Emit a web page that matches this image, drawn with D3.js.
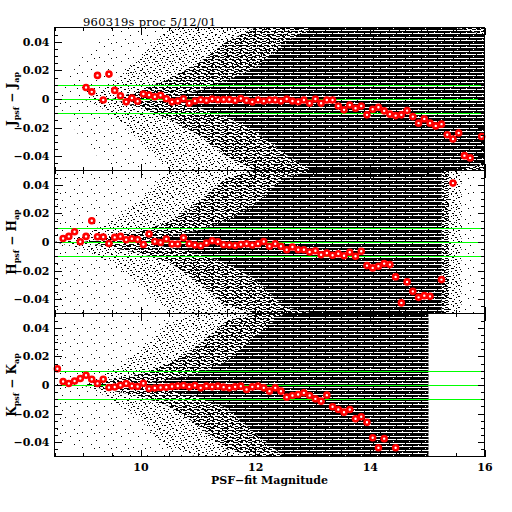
<!DOCTYPE html>
<html>
<head>
<meta charset="utf-8">
<script src="https://cdn.jsdelivr.net/npm/d3@7"></script>
<style>
body { margin: 0; background: #fff; }
svg { display: block; }
</style>
</head>
<body>
<div id="chart"></div>
<script>
// ---- DATA ----
const titleText = '960319s proc 5/12/01';
const xLabelText = 'PSF\u2212fit Magnitude';
const magDomain = [8.5, 16];
const diffDomain = [-0.05, 0.05];
const xTicks = [10, 12, 14, 16];
const yTicks = [0.04, 0.02, 0, -0.02, -0.04];
const refLines = [0.01, 0, -0.01];

// running medians in 0.1 mag bins (red circles)
const jMag = [9.05,9.15,9.25,9.35,9.45,9.55,9.65,9.75,9.85,9.95,
	10.05,10.15,10.25,10.35,10.45,10.55,10.65,10.75,10.85,10.95,
	11.05,11.15,11.25,11.35,11.45,11.55,11.65,11.75,11.85,11.95,
	12.05,12.15,12.25,12.35,12.45,12.55,12.65,12.75,12.85,12.95,
	13.05,13.15,13.25,13.35,13.45,13.55,13.65,13.75,13.85,13.95,
	14.05,14.15,14.25,14.35,14.45,14.55,14.65,14.75,14.85,14.95,
	15.05,15.15,15.25,15.35,15.45,15.55,15.65,15.75,15.95];
const jDiff = [0.008,0.005,0.0165,-0.0007,0.0174,0.006,0.0023,-0.002,0.0007,-0.0016,
	0.0035,0.0028,0.0016,0.0026,0.0002,-0.002,-0.0014,0.0002,-0.003,-0.0014,
	-0.0005,-0.001,0,-0.0005,-0.0003,-0.0003,-0.001,0.0003,-0.001,-0.002,
	-0.0007,-0.0014,-0.0007,-0.0007,-0.0014,0,-0.0014,-0.0019,-0.0007,-0.003,
	0,-0.003,-0.0007,-0.0007,-0.0049,-0.0076,-0.0042,-0.0065,-0.0049,-0.0111,
	-0.0072,-0.0058,-0.0083,-0.0106,-0.0116,-0.0111,-0.0081,-0.0123,-0.0169,-0.0139,
	-0.0169,-0.0188,-0.0176,-0.025,-0.028,-0.0238,-0.0396,-0.0412,-0.0262];

const hMag = [8.65,8.75,8.85,8.95,9.05,9.15,9.25,9.35,9.45,9.55,
	9.65,9.75,9.85,9.95,10.05,10.15,10.25,10.35,10.45,10.55,
	10.65,10.75,10.85,10.95,11.05,11.15,11.25,11.35,11.45,11.55,
	11.65,11.75,11.85,11.95,12.05,12.15,12.25,12.35,12.45,12.55,
	12.65,12.75,12.85,12.95,13.05,13.15,13.25,13.35,13.45,13.55,
	13.65,13.75,13.85,13.95,14.05,14.15,14.25,14.35,14.45,14.55,
	14.65,14.75,14.85,14.95,15.05,15.25,15.45];
const hDiff = [0.0025,0.0039,0.0072,0.0002,0.0039,0.0149,0.0037,0.0035,-0.001,0.0032,
	0.0039,0.0016,0.0023,0.0018,-0.0017,0.0056,0.0004,-0.0003,0.0021,-0.0014,
	-0.0014,0.003,-0.0012,-0.0021,-0.0026,-0.0007,0.0009,0.0002,-0.0019,-0.0021,
	-0.0024,-0.0017,-0.0012,-0.0021,-0.0012,0.0004,-0.003,-0.0012,-0.003,-0.0054,
	-0.0035,-0.0054,-0.0054,-0.007,-0.0061,-0.0089,-0.0077,-0.0093,-0.0082,-0.0096,
	-0.0072,-0.01,-0.0065,-0.0165,-0.0181,-0.017,-0.0151,-0.0158,-0.0244,-0.0426,
	-0.0279,-0.0345,-0.0387,-0.0375,-0.038,-0.0263,0.0412];

const kMag = [8.55,8.65,8.75,8.85,8.95,9.05,9.15,9.25,9.35,9.45,
	9.55,9.65,9.75,9.85,9.95,10.05,10.15,10.25,10.35,10.45,
	10.55,10.65,10.75,10.85,10.95,11.05,11.15,11.25,11.35,11.45,
	11.55,11.65,11.75,11.85,11.95,12.05,12.15,12.25,12.35,12.45,
	12.55,12.65,12.75,12.85,12.95,13.05,13.15,13.25,13.35,13.45,
	13.55,13.65,13.75,13.85,13.95,14.05,14.15,14.25,14.45];
const kDiff = [0.0114,0.0024,0.001,0.0028,0.0045,0.0068,0.004,0.001,0.004,-0.0018,
	-0.0014,-0.0002,0.001,-0.0007,-0.0011,0.0012,-0.0025,-0.0021,-0.0018,-0.0016,
	-0.0011,-0.0007,-0.0003,-0.0013,-0.0003,-0.002,-0.0008,-0.0013,-0.0008,-0.0015,
	-0.002,-0.0013,-0.0008,-0.0031,-0.0013,-0.0008,-0.002,-0.0043,-0.002,-0.0043,
	-0.0085,-0.0073,-0.0066,-0.0055,-0.0073,-0.0097,-0.0113,-0.0071,-0.0152,-0.0171,
	-0.019,-0.0171,-0.0236,-0.0222,-0.026,-0.0369,-0.0439,-0.0375,-0.0439];

// star-cloud envelopes: half-width (|diff|) reached by each density level
const envMag = [8.5,9,9.5,10,10.5,11,11.5,12,12.5,13,13.5,14,14.5,15,15.5,16];
const jSparse = [0,0.03,0.05,0.05,0.05,0.05,0.05,0.05,0.05,0.05,0.05,0.05,0.05,0.05,0.05,0.05];
const jMedium = [0,0,0.01,0.03,0.05,0.05,0.05,0.05,0.05,0.05,0.05,0.05,0.05,0.05,0.05,0.05];
const jDense  = [0,0,0,0.006,0.014,0.025,0.04,0.05,0.05,0.05,0.05,0.05,0.05,0.05,0.05,0.05];
const jFull   = [0,0,0,0,0,0.006,0.013,0.022,0.038,0.05,0.05,0.05,0.05,0.05,0.05,0.045];
const hSparse = [0.05,0.05,0.05,0.05,0.05,0.05,0.05,0.05,0.05,0.05,0.05,0.05,0.05,0.05,0.05,0.05];
const hMedium = [0,0.005,0.015,0.03,0.05,0.05,0.05,0.05,0.05,0.05,0.05,0.05,0.05,0.05,0.05,0.05];
const hDense  = [0,0,0.004,0.008,0.014,0.028,0.045,0.05,0.05,0.05,0.05,0.05,0.05,0.05,0.05,0.05];
const hFull   = [0,0,0,0,0.004,0.008,0.015,0.026,0.045,0.05,0.05,0.05,0.05,0.05,0.05,0.05];
const kSparse = [0.04,0.045,0.05,0.05,0.05,0.05,0.05,0.05,0.05,0.05,0.05,0.05,0.05,0.05,0.05,0.05];
const kMedium = [0,0,0.01,0.025,0.045,0.05,0.05,0.05,0.05,0.05,0.05,0.05,0.05,0.05,0.05,0.05];
const kDense  = [0,0,0.004,0.008,0.015,0.028,0.045,0.05,0.05,0.05,0.05,0.05,0.05,0.05,0.05,0.05];
const kFull   = [0,0,0,0,0.004,0.008,0.016,0.034,0.05,0.05,0.05,0.05,0.05,0.05,0.05,0.05];
// faint end of each density level (sparse, medium, dense, full)
const jLevelEnd = [16, 16, 16, 16];
const hLevelEnd = [15.85, 15.6, 15.38, 15.25];
const kLevelEnd = [15.02, 15.02, 15.02, 15.02];

// ---- LAYOUT ----
const width = 512, height = 512;
const frameLeft = 54.5, frameRight = 484.5;
const panelTop = 27.5, panelH = 143;
const fontFam = "'DejaVu Serif', 'Liberation Serif', serif";

const panels = [
	{band: 'J', mag: jMag, diff: jDiff, env: [jSparse, jMedium, jDense, jFull], ends: jLevelEnd},
	{band: 'H', mag: hMag, diff: hDiff, env: [hSparse, hMedium, hDense, hFull], ends: hLevelEnd},
	{band: 'K', mag: kMag, diff: kDiff, env: [kSparse, kMedium, kDense, kFull], ends: kLevelEnd}
];

const svg = d3.select('#chart').append('svg')
	.attr('width', width)
	.attr('height', height);
const defs = svg.append('defs');

// stipple patterns for the density levels
function addPattern(id, w, h, base, cells, ink) {
	const p = defs.append('pattern')
		.attr('id', id)
		.attr('patternUnits', 'userSpaceOnUse')
		.attr('width', w)
		.attr('height', h);
	if (base) p.append('rect').attr('width', w).attr('height', h).attr('fill', base);
	p.selectAll('rect.c')
		.data(cells)
		.join('rect')
		.attr('class', 'c')
		.attr('x', c => c[0])
		.attr('y', c => c[1])
		.attr('width', c => c[2])
		.attr('height', 1)
		.attr('fill', ink)
		.attr('shape-rendering', 'crispEdges');
}
addPattern('lvl0', 17, 15, null, [[2,1,1],[11,5,1],[6,9,1],[14,12,1],[9,13,1]], '#000');
addPattern('lvl1', 13, 11, null, [[1,0,1],[7,1,2],[4,3,1],[10,4,2],[0,6,2],[6,7,1],[11,9,1],[3,10,2],[9,7,1],[5,5,1],[12,2,1],[2,8,1]], '#000');
addPattern('lvl2', 14, 7, null, [[0,0,4],[7,0,3],[2,1,3],[10,1,4],[0,3,3],[5,3,5],[12,3,2],[1,4,3],[8,4,4],[3,6,5],[11,6,3]], '#000');
addPattern('lvl3', 16, 7, '#000', [[0,2,5],[6,2,10],[0,5,12],[13,5,3],[9,0,1],[2,4,1]], '#fff');

const x = d3.scaleLinear().domain(magDomain).range([frameLeft, frameRight]);
const xMinor = d3.range(magDomain[0], magDomain[1] + 0.001, 0.5).filter(v => !xTicks.includes(v));
const yMinor = d3.range(-0.045, 0.0451, 0.005).filter(v => !yTicks.some(t => Math.abs(t - v) < 1e-6));

panels.forEach((p, i) => {
	const top = panelTop + i * panelH;
	const y = d3.scaleLinear().domain(diffDomain).range([top + panelH, top]);
	const g = svg.append('g');

	// STAR CLOUD, one clip per density level
	p.env.forEach((hw, lvl) => {
		const clipId = `clip${i}_${lvl}`;
		defs.append('clipPath').attr('id', clipId)
			.append('rect')
			.attr('x', frameLeft)
			.attr('y', top)
			.attr('width', x(p.ends[lvl]) - frameLeft)
			.attr('height', panelH);
		const area = d3.area()
			.x((d, j) => x(envMag[j]))
			.y0(d => y(-d))
			.y1(d => y(d))
			.curve(d3.curveLinear);
		g.append('path')
			.datum(hw)
			.attr('d', area)
			.attr('clip-path', `url(#${clipId})`)
			.attr('fill', `url(#lvl${lvl})`);
	});

	// REFERENCE LINES
	g.selectAll('line.ref')
		.data(refLines)
		.join('line')
		.attr('class', 'ref')
		.attr('x1', frameLeft)
		.attr('x2', frameRight)
		.attr('y1', d => Math.round(y(d)) + 0.5)
		.attr('y2', d => Math.round(y(d)) + 0.5)
		.attr('stroke', '#00ff00')
		.attr('stroke-width', 1);

	// MEDIANS
	g.selectAll('circle.med')
		.data(p.mag)
		.join('circle')
		.attr('class', 'med')
		.attr('cx', d => x(d))
		.attr('cy', (d, j) => y(p.diff[j]))
		.attr('r', 2.5)
		.attr('fill', '#fff')
		.attr('stroke', '#ff0000')
		.attr('stroke-width', 2.6);

	// FRAME & TICKS
	g.append('rect')
		.attr('x', frameLeft)
		.attr('y', top)
		.attr('width', frameRight - frameLeft)
		.attr('height', panelH)
		.attr('fill', 'none')
		.attr('stroke', '#000')
		.attr('stroke-width', 1);

	const fmt = d => d === 0 ? '0' : d3.format('.2f')(d);
	const axes = [
		[d3.axisLeft(y).tickValues(yTicks).tickSize(-7).tickPadding(5).tickFormat(fmt), frameLeft, 0],
		[d3.axisLeft(y).tickValues(yMinor).tickSize(-3.5).tickFormat(''), frameLeft, 0],
		[d3.axisRight(y).tickValues(yTicks).tickSize(-7).tickFormat(''), frameRight, 0],
		[d3.axisRight(y).tickValues(yMinor).tickSize(-3.5).tickFormat(''), frameRight, 0],
		[d3.axisTop(x).tickValues(xTicks).tickSize(-7).tickFormat(''), 0, top],
		[d3.axisTop(x).tickValues(xMinor).tickSize(-3.5).tickFormat(''), 0, top],
		[d3.axisBottom(x).tickValues(xTicks).tickSize(-7).tickPadding(7)
			.tickFormat(i === panels.length - 1 ? d3.format('d') : ''), 0, top + panelH],
		[d3.axisBottom(x).tickValues(xMinor).tickSize(-3.5).tickFormat(''), 0, top + panelH]
	];
	axes.forEach(([ax, tx, ty]) => {
		const a = g.append('g')
			.attr('transform', `translate(${tx},${ty})`)
			.call(ax.tickSizeOuter(0));
		a.select('.domain').remove();
		a.selectAll('.tick line').attr('shape-rendering', 'crispEdges');
		a.selectAll('text')
			.attr('font-family', fontFam)
			.attr('font-size', 11)
			.attr('font-weight', 'bold')
			.attr('fill', '#000');
	});

	// Y LABEL
	const lbl = svg.append('text')
		.attr('transform', `translate(16,${top + panelH / 2}) rotate(-90)`)
		.attr('text-anchor', 'middle')
		.attr('font-family', fontFam)
		.attr('font-size', 12)
		.attr('font-weight', 'bold');
	lbl.append('tspan').text(p.band);
	lbl.append('tspan').attr('dy', 3).attr('font-size', 8).text('psf');
	lbl.append('tspan').attr('dy', -3).text(` \u2212 ${p.band}`);
	lbl.append('tspan').attr('dy', 3).attr('font-size', 8).text('ap');
});

// TITLE & X LABEL
svg.append('text')
	.attr('x', 83)
	.attr('y', 26)
	.attr('font-family', fontFam)
	.attr('font-size', 11.5)
	.attr('textLength', 133)
	.text(titleText);

svg.append('text')
	.attr('x', (frameLeft + frameRight) / 2)
	.attr('y', 484)
	.attr('text-anchor', 'middle')
	.attr('font-family', fontFam)
	.attr('font-size', 11)
	.attr('font-weight', 'bold')
	.text(xLabelText);
</script>
</body>
</html>
